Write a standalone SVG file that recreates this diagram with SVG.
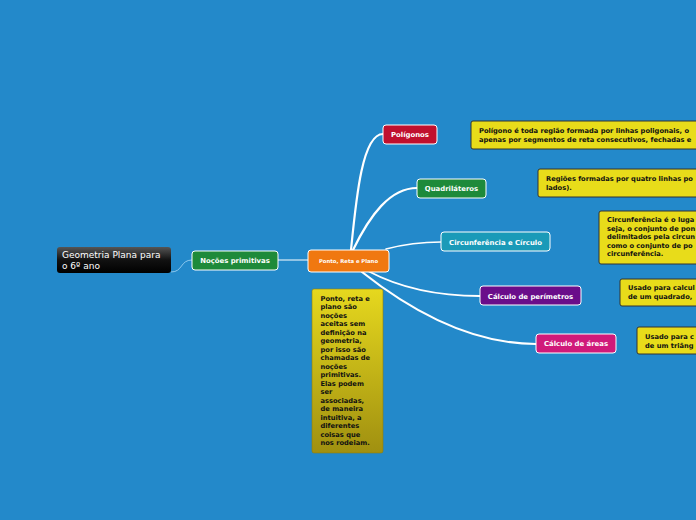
<svg xmlns="http://www.w3.org/2000/svg" width="696" height="520" viewBox="0 0 696 520">
<defs>
<linearGradient id="gRoot" x1="0" y1="0" x2="0" y2="1">
<stop offset="0" stop-color="#555"/><stop offset="0.5" stop-color="#111"/><stop offset="1" stop-color="#000"/>
</linearGradient>
<linearGradient id="gNote" x1="0" y1="0" x2="0" y2="1">
<stop offset="0" stop-color="#E6D81E"/><stop offset="1" stop-color="#A09010"/>
</linearGradient>
<style>
.t{font-family:"DejaVu Sans","Liberation Sans",sans-serif;font-weight:bold;fill:#fff}
.nt{font-family:"DejaVu Sans","Liberation Sans",sans-serif;font-weight:bold;font-size:6.7px;fill:#111}
.box{stroke:#fff;stroke-width:1}
.note{fill:#E8DC1A;stroke:#333;stroke-width:1}
.c{fill:none;stroke:#fff;stroke-linecap:round}
</style>
</defs>
<rect width="696" height="520" fill="#2389CA"/>
<g id="connectors">
<path d="M171,272 C183,272 180,260 192,260" fill="none" stroke="#8CC8EE" stroke-width="1"/>
<path d="M278,260 L308,260" class="c" stroke-width="1"/>
<path d="M351,250 C356,200 362,134 383,134" class="c" stroke-width="2.2"/>
<path d="M353,250 C370,215 390,188 417,188" class="c" stroke-width="2.2"/>
<path d="M386,249 C405,244 420,242 441,242" class="c" stroke-width="1.5"/>
<path d="M368,271 C400,288 440,296 480,296" class="c" stroke-width="1.8"/>
<path d="M362,272 C410,310 470,344 536,344" class="c" stroke-width="2.2"/>
</g>
<g id="root">
<rect x="57" y="247" width="114" height="26" rx="3" fill="url(#gRoot)"/>
<text x="62" y="258" font-family="DejaVu Sans, sans-serif" font-size="9" fill="#fff">Geometria Plana para</text>
<text x="62" y="269" font-family="DejaVu Sans, sans-serif" font-size="9" fill="#fff">o 6º ano</text>
</g>
<g id="nocoes">
<rect x="192" y="251" width="86" height="19" rx="3" fill="#1E8A3A" class="box"/>
<text x="235" y="263" class="t" font-size="6.9" text-anchor="middle">Noções primitivas</text>
</g>
<g id="ponto">
<rect x="308" y="250" width="81" height="22" rx="3" fill="#F07810" class="box"/>
<text x="348.5" y="263" class="t" font-size="5.3" text-anchor="middle">Ponto, Reta e Plano</text>
</g>
<g id="poligonos">
<rect x="383" y="125" width="54" height="19" rx="3" fill="#C0102E" class="box"/>
<text x="410" y="137" class="t" font-size="6.9" text-anchor="middle">Polígonos</text>
</g>
<g id="quadrilateros">
<rect x="417" y="179" width="69" height="19" rx="3" fill="#1E8A3A" class="box"/>
<text x="451.5" y="191" class="t" font-size="6.9" text-anchor="middle">Quadriláteros</text>
</g>
<g id="circunferencia">
<rect x="441" y="232" width="109" height="19" rx="3" fill="#1A9AB8" class="box"/>
<text x="495.5" y="244.5" class="t" font-size="6.9" text-anchor="middle">Circunferência e Círculo</text>
</g>
<g id="perimetros">
<rect x="480" y="286" width="101" height="19" rx="3" fill="#6A0D8A" class="box"/>
<text x="530.5" y="298.5" class="t" font-size="6.9" text-anchor="middle">Cálculo de perímetros</text>
</g>
<g id="areas">
<rect x="536" y="334" width="80" height="19" rx="3" fill="#D01A7A" class="box"/>
<text x="576" y="346" class="t" font-size="6.9" text-anchor="middle">Cálculo de áreas</text>
</g>
<g id="note-poligonos">
<rect x="471" y="121" width="240" height="28" rx="2" class="note"/>
<text x="479" y="132.5" class="nt">Polígono é toda região formada por linhas poligonais, o</text>
<text x="479" y="141.5" class="nt">apenas por segmentos de reta consecutivos, fechadas e</text>
</g>
<g id="note-quadrilateros">
<rect x="538" y="169" width="170" height="28" rx="2" class="note"/>
<text x="546" y="180.5" class="nt">Regiões formadas por quatro linhas po</text>
<text x="546" y="189.5" class="nt">lados).</text>
</g>
<g id="note-circunferencia">
<rect x="599" y="211" width="110" height="53" rx="2" class="note"/>
<text x="607" y="222" class="nt">Circunferência é o luga</text>
<text x="607" y="230.5" class="nt">seja, o conjunto de pon</text>
<text x="607" y="239" class="nt">delimitados pela circun</text>
<text x="607" y="247.5" class="nt">como o conjunto de po</text>
<text x="607" y="256" class="nt">circunferência.</text>
</g>
<g id="note-perimetros">
<rect x="620" y="279" width="90" height="27" rx="2" class="note"/>
<text x="628" y="290" class="nt">Usado para calcul</text>
<text x="628" y="299" class="nt">de um quadrado,</text>
</g>
<g id="note-areas">
<rect x="637" y="327" width="70" height="27" rx="2" class="note"/>
<text x="645" y="338.5" class="nt">Usado para c</text>
<text x="645" y="347.5" class="nt">de um triâng</text>
</g>
<g id="note-ponto">
<rect x="312" y="289" width="71" height="164" rx="2" fill="url(#gNote)" stroke="#8A7C10" stroke-width="0.6"/>
<text class="nt" x="320.5">
<tspan x="320.5" y="300.5">Ponto, reta e</tspan>
<tspan x="320.5" y="309">plano são</tspan>
<tspan x="320.5" y="317.5">noções</tspan>
<tspan x="320.5" y="326">aceitas sem</tspan>
<tspan x="320.5" y="334.5">definição na</tspan>
<tspan x="320.5" y="343">geometria,</tspan>
<tspan x="320.5" y="351.5">por isso são</tspan>
<tspan x="320.5" y="360">chamadas de</tspan>
<tspan x="320.5" y="368.5">noções</tspan>
<tspan x="320.5" y="377">primitivas.</tspan>
<tspan x="320.5" y="385.5">Elas podem</tspan>
<tspan x="320.5" y="394">ser</tspan>
<tspan x="320.5" y="402.5">associadas,</tspan>
<tspan x="320.5" y="411">de maneira</tspan>
<tspan x="320.5" y="419.5">intuitiva, a</tspan>
<tspan x="320.5" y="428">diferentes</tspan>
<tspan x="320.5" y="436.5">coisas que</tspan>
<tspan x="320.5" y="445">nos rodeiam.</tspan>
</text>
</g>
</svg>
